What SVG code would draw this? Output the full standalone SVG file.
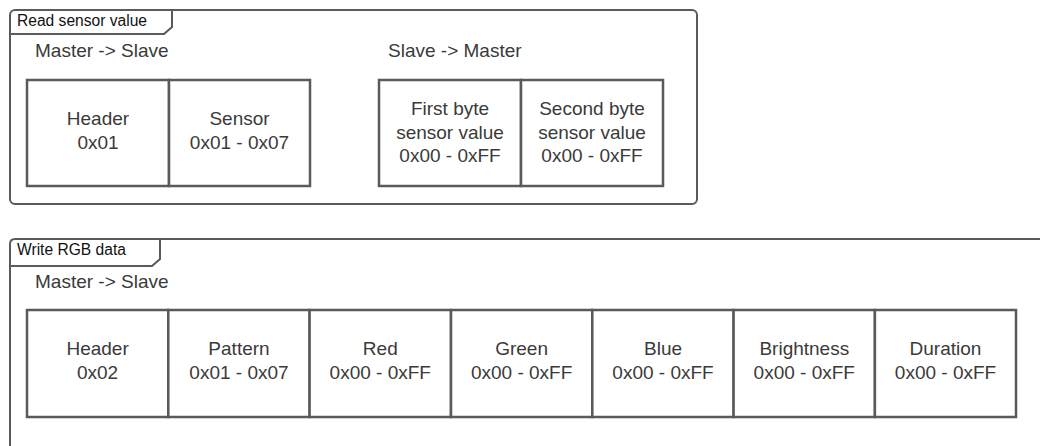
<svg xmlns="http://www.w3.org/2000/svg" width="1040" height="446" viewBox="0 0 1040 446">
<style>
.frame{fill:none;stroke:#5a5a5a;stroke-width:2}
.cell{fill:#fff;stroke:#5a5a5a;stroke-width:2.5}
.t{font-family:"Liberation Sans",Arial,sans-serif;font-size:19px;fill:#3a3a3a;text-anchor:middle}
.lbl{font-family:"Liberation Sans",Arial,sans-serif;font-size:19px;fill:#3a3a3a}
.tab{font-family:"Liberation Sans",Arial,sans-serif;font-size:15.6px;fill:#111}
</style>
<rect width="1040" height="446" fill="#fff"/>
<g id="frame-read">
<rect class="frame" x="10" y="10" width="687" height="194" rx="5"/>
<path class="frame" d="M10,34 H164 L172,27 V10"/>
<text class="tab" x="17" y="26">Read sensor value</text>
<text class="lbl" x="35" y="57">Master -&gt; Slave</text>
<text class="lbl" x="388" y="57">Slave -&gt; Master</text>
</g>
<g id="read-header">
<rect class="cell" x="27" y="80" width="142" height="106"/>
<text class="t" x="98" y="125">Header</text>
<text class="t" x="98" y="149">0x01</text>
</g>
<g id="read-sensor">
<rect class="cell" x="169" y="80" width="141" height="106"/>
<text class="t" x="239.5" y="125">Sensor</text>
<text class="t" x="239.5" y="149">0x01 - 0x07</text>
</g>
<g id="read-first">
<rect class="cell" x="379" y="80" width="142" height="106"/>
<text class="t" x="450" y="115">First byte</text>
<text class="t" x="450" y="139">sensor value</text>
<text class="t" x="450" y="162">0x00 - 0xFF</text>
</g>
<g id="read-second">
<rect class="cell" x="521" y="80" width="142" height="106"/>
<text class="t" x="592" y="115">Second byte</text>
<text class="t" x="592" y="139">sensor value</text>
<text class="t" x="592" y="162">0x00 - 0xFF</text>
</g>
<g id="frame-write">
<path class="frame" d="M10,450 V244 Q10,239 15,239 H1042"/>
<path class="frame" d="M10,266 H152 L160,259 V239"/>
<text class="tab" x="17" y="255">Write RGB data</text>
<text class="lbl" x="35" y="288">Master -&gt; Slave</text>
</g>
<g id="write-header">
<rect class="cell" x="27" y="310" width="141.3" height="107"/>
<text class="t" x="97.6" y="355">Header</text>
<text class="t" x="97.6" y="379">0x02</text>
</g>
<g id="write-pattern">
<rect class="cell" x="168.3" y="310" width="141.3" height="107"/>
<text class="t" x="239" y="355">Pattern</text>
<text class="t" x="239" y="379">0x01 - 0x07</text>
</g>
<g id="write-red">
<rect class="cell" x="309.6" y="310" width="141.4" height="107"/>
<text class="t" x="380.3" y="355">Red</text>
<text class="t" x="380.3" y="379">0x00 - 0xFF</text>
</g>
<g id="write-green">
<rect class="cell" x="451" y="310" width="141.3" height="107"/>
<text class="t" x="521.6" y="355">Green</text>
<text class="t" x="521.6" y="379">0x00 - 0xFF</text>
</g>
<g id="write-blue">
<rect class="cell" x="592.3" y="310" width="141.3" height="107"/>
<text class="t" x="663" y="355">Blue</text>
<text class="t" x="663" y="379">0x00 - 0xFF</text>
</g>
<g id="write-brightness">
<rect class="cell" x="733.6" y="310" width="141.3" height="107"/>
<text class="t" x="804.3" y="355">Brightness</text>
<text class="t" x="804.3" y="379">0x00 - 0xFF</text>
</g>
<g id="write-duration">
<rect class="cell" x="874.9" y="310" width="141.1" height="107"/>
<text class="t" x="945.5" y="355">Duration</text>
<text class="t" x="945.5" y="379">0x00 - 0xFF</text>
</g>
<g id="connectors"></g>
</svg>
